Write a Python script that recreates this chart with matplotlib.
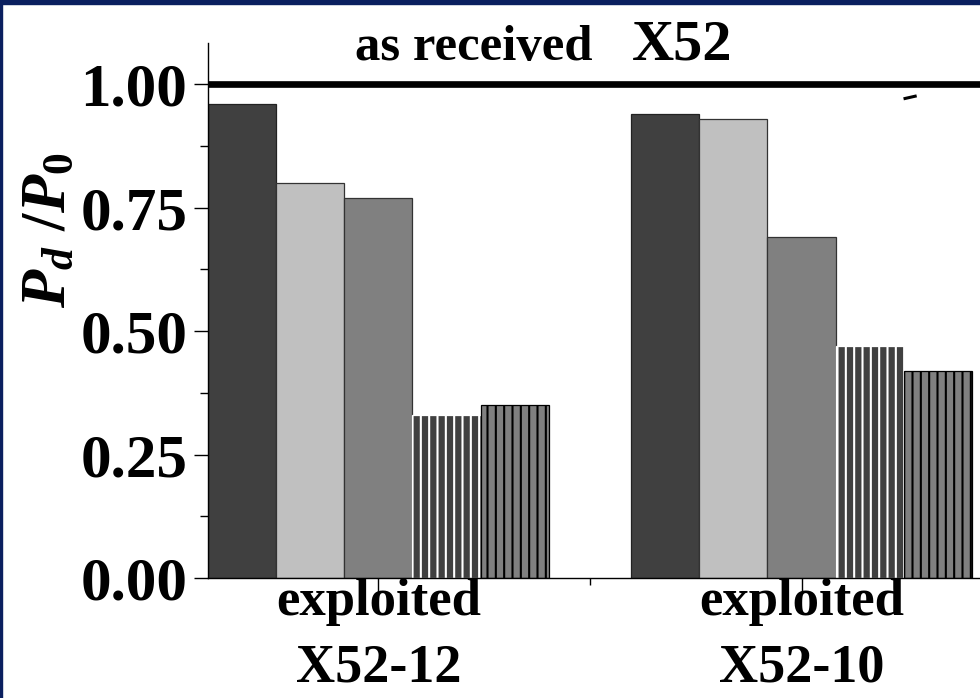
import matplotlib
matplotlib.use("Agg")
import matplotlib.pyplot as plt
from matplotlib.patches import Rectangle
import numpy as np

# ─── Daten ────────────────────────────────────────────────────────────────────
gruppen   = ["X52-12", "X52-10"]
gruppen_oben = ["exploited", "exploited"]
serie_1 = [0.96, 0.94]
serie_2 = [0.80, 0.93]
serie_3 = [0.77, 0.69]
serie_4 = [0.33, 0.47]
serie_5 = [0.35, 0.42]
referenz = 1.00            # as received X52
stub_x = [1.241, 1.272]    # kurzer Strich rechts oben
stub_y = [0.970, 0.976]
yticks = [0.00, 0.25, 0.50, 0.75, 1.00]

# ─── Stil ─────────────────────────────────────────────────────────────────────
plt.rcParams["font.family"] = "Liberation Serif"
plt.rcParams["font.weight"] = "bold"
plt.rcParams["mathtext.fontset"] = "custom"
plt.rcParams["mathtext.it"] = "Liberation Serif:bold:italic"
plt.rcParams["mathtext.rm"] = "Liberation Serif:bold"
plt.rcParams["hatch.linewidth"] = 1.5

fig = plt.figure(figsize=(9.8, 6.98), dpi=100)
ax = fig.add_axes([208 / 980, 1 - 578 / 698, 0.80, 535 / 698])

breite = 0.161
x = np.arange(len(gruppen))
serien = [
    (serie_1, "#404040", "#222222", None),
    (serie_2, "#c0c0c0", "#333333", None),
    (serie_3, "#808080", "#333333", None),
    (serie_4, "#404040", "white", "||"),
    (serie_5, "#808080", "black", "||"),
]
for i, (werte, farbe, kante, muster) in enumerate(serien):
    ax.bar(x + (i - 2) * breite, werte, width=breite, color=farbe,
           edgecolor=kante, linewidth=0.9, hatch=muster, zorder=2)

ax.axhline(referenz, color="black", linewidth=4.8, zorder=3)
ax.plot(stub_x, stub_y, color="black", linewidth=2.2, solid_capstyle="butt")

ax.set_xlim(-2.5 * breite, 1.45)
ax.set_ylim(0, 1.083)
ax.set_yticks(yticks)
ax.set_yticklabels([f"{v:.2f}" for v in yticks], fontsize=44, fontweight="bold")
ax.set_yticks(np.arange(0.125, 1.0, 0.25), minor=True)
ax.set_xticks(x)
ax.set_xticklabels([])
ax.set_xticks([0.5], minor=True)
ax.tick_params(axis="y", which="major", length=10, width=1, pad=5)
ax.tick_params(axis="y", which="minor", length=6, width=1)
ax.tick_params(axis="x", which="major", length=10, width=1)
ax.tick_params(axis="x", which="minor", length=5, width=1)
ax.spines[["top", "right"]].set_visible(False)
ax.spines["left"].set_linewidth(1)
ax.spines["bottom"].set_linewidth(1)

for xi, oben, unten in zip(x, gruppen_oben, gruppen):
    ax.text(xi, -0.075, oben, ha="center", va="baseline", fontsize=38,
            fontweight="bold", clip_on=False)
    ax.text(xi, -0.2105, unten, ha="center", va="baseline", fontsize=39,
            fontweight="bold", clip_on=False)

fig.text(50 / 980, 1 - 230 / 698, r"$P_d\ /P_0$", rotation=90,
         ha="center", va="center", fontsize=45)
fig.text(355 / 980, 1 - 60 / 698, "as received", fontsize=36.5,
         fontweight="bold", va="baseline")
fig.text(632 / 980, 1 - 60 / 698, "X52", fontsize=42,
         fontweight="bold", va="baseline")

# Rahmen der Folie
navy = "#0a1f5f"
fig.patches.append(Rectangle((0, 1 - 4 / 698), 1, 4 / 698, transform=fig.transFigure,
                             color=navy, zorder=0))
fig.patches.append(Rectangle((0, 0), 2 / 980, 1, transform=fig.transFigure,
                             color=navy, zorder=0))

fig.savefig("out.png", dpi=100)
